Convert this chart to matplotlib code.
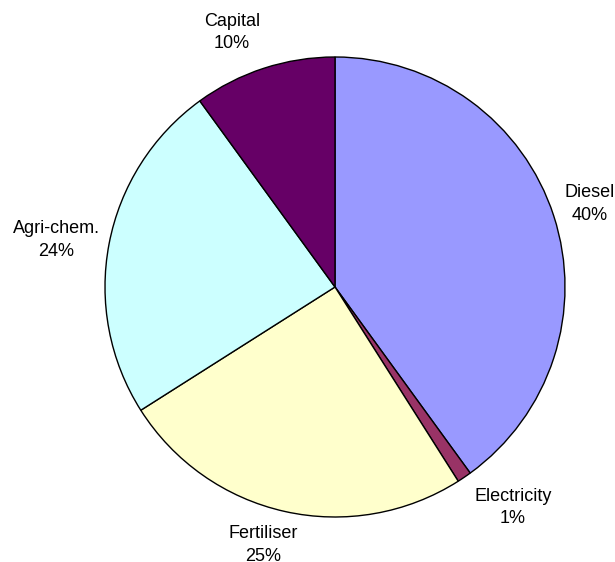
import matplotlib.pyplot as plt

categories = ["Diesel", "Electricity", "Fertiliser", "Agri-chem.", "Capital"]
shares = [40, 1, 25, 24, 10]
colors = ["#9999FF", "#993366", "#FFFFCC", "#CCFFFF", "#660066"]
# label centres in pie units (radius = 1), as placed in the original chart
label_xy = [(1.109, 0.361), (0.774, -0.959), (-0.313, -1.122),
            (-1.213, 0.204), (-0.448, 1.107)]

plt.rcParams['font.family'] = ['Liberation Sans', 'DejaVu Sans']

fig = plt.figure(figsize=(6.15, 5.62), dpi=100)
ax = fig.add_axes([105 / 615, 45 / 562, 460 / 615, 460 / 562])
wedges, _ = ax.pie(shares, colors=colors, startangle=90, counterclock=False,
                   radius=1, wedgeprops=dict(edgecolor="black", linewidth=1))
ax.set_xlim(-1, 1)
ax.set_ylim(-1, 1)

for name, val, (x, y) in zip(categories, shares, label_xy):
    ax.text(x, y, f"{name}\n{val}%", ha="center", va="center",
            fontsize=13, linespacing=1.4, clip_on=False)

fig.savefig("out.png", dpi=100)
